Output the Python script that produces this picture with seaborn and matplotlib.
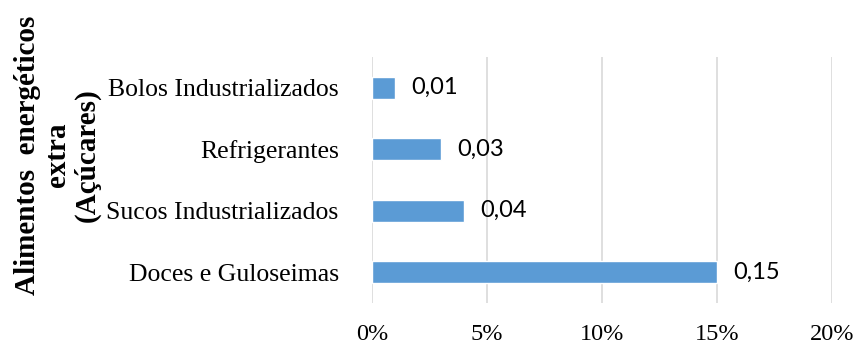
import matplotlib
matplotlib.use('Agg')
import matplotlib.pyplot as plt
import seaborn as sns
import pandas as pd
from matplotlib.ticker import FuncFormatter

# data
categories = ['Bolos Industrializados', 'Refrigerantes',
              'Sucos Industrializados', 'Doces e Guloseimas']
values = [0.01, 0.03, 0.04, 0.15]
value_labels = ['0,01', '0,03', '0,04', '0,15']
x_ticks = [0.0, 0.05, 0.10, 0.15, 0.20]

df = pd.DataFrame({'categoria': categories, 'valor': values})

sns.set_style('white')
plt.rcParams['font.family'] = ['Liberation Serif', 'DejaVu Serif']
plt.rcParams['text.color'] = 'black'
plt.rcParams['xtick.color'] = 'black'
plt.rcParams['ytick.color'] = 'black'

fig = plt.figure(figsize=(8.56, 3.47), dpi=100)
ax = fig.add_axes([0.4346, 0.1268, 0.5375, 0.7089])

sns.barplot(data=df, y='categoria', x='valor', orient='h',
            color='#5B9BD5', saturation=1, width=0.35, ax=ax)

# value labels in a sans font next to each bar
for i, (v, lab) in enumerate(zip(values, value_labels)):
    ax.annotate(lab, (v, i), xytext=(11.5, 0), textcoords='offset points',
                ha='left', va='center', fontsize=17, family='Lato',
                color='black')

ax.set_xlim(0, 0.20)
ax.set_xticks(x_ticks)
ax.xaxis.set_major_formatter(FuncFormatter(lambda x, _: f'{x*100:.0f}%'))
ax.grid(True, axis='x', color='#D9D9D9', linewidth=1.2)
ax.set_axisbelow(True)
for s in ax.spines.values():
    s.set_visible(False)

ax.tick_params(axis='x', length=0, pad=15, labelsize=17.5)
ax.tick_params(axis='y', length=0, pad=24, labelsize=18.5)
ax.set_xlabel('')
ax.set_ylabel('')

fig.text(0.067, 0.553, 'Alimentos  energéticos\nextra\n(Açúcares)',
         rotation=90, ha='center', va='center', multialignment='center',
         fontsize=21, fontweight='bold', linespacing=1.15)

plt.savefig('out.png', dpi=100)
plt.close()
